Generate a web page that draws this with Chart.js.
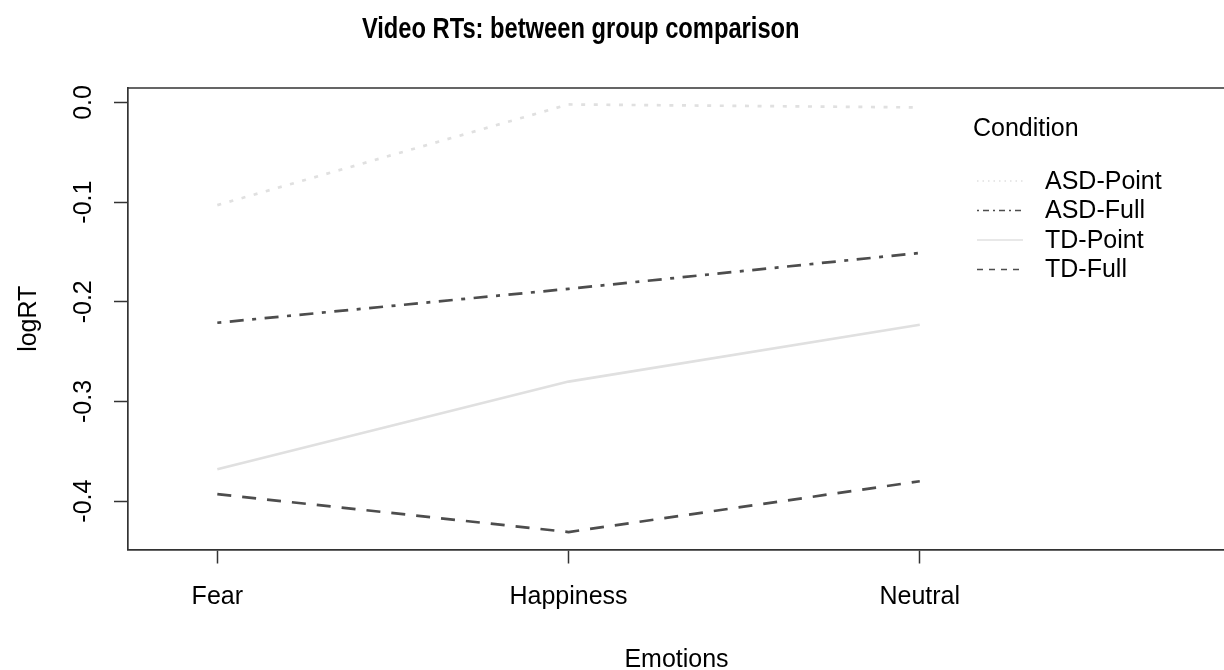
<!DOCTYPE html>
<html>
<head>
<meta charset="utf-8">
<title>Video RTs: between group comparison</title>
<script src="https://cdn.jsdelivr.net/npm/chart.js@4/dist/chart.umd.min.js"></script>
<style>
  html, body { margin: 0; padding: 0; background: #fff; overflow: hidden; }
  #wrap { width: 1226px; height: 670px; }
</style>
</head>
<body>
<div id="wrap"><canvas id="c" width="1226" height="670"></canvas></div>
<script>
// Emotion categories on the x axis
const emotions = ['Fear', 'Happiness', 'Neutral'];

// Mean logRT per condition, one value per emotion
const asdPoint = [-0.103, -0.002, -0.005];
const asdFull  = [-0.221, -0.187, -0.151];
const tdPoint  = [-0.368, -0.280, -0.223];
const tdFull   = [-0.393, -0.431, -0.380];

const seriesNames = ['ASD-Point', 'ASD-Full', 'TD-Point', 'TD-Full'];
const seriesValues = [asdPoint, asdFull, tdPoint, tdFull];

// y-axis tick values
const yTicks = [-0.4, -0.3, -0.2, -0.1, 0.0];

const FONT = "'Liberation Sans', Arial, sans-serif";
const FONT_SIZE = 25;
const LIGHT = '#e0e0e0';
const DARK = '#4d4d4d';
const AXIS = '#333333';

// line styles: dotted, dot-dash, solid, dashed
const styles = [
  { color: LIGHT, dash: [4, 8.6],          legendDash: [1.5, 4] },
  { color: DARK,  dash: [4, 8.5, 14, 8.5], legendDash: [2, 4, 6, 4] },
  { color: LIGHT, dash: [],                legendDash: [] },
  { color: DARK,  dash: [14, 11],          legendDash: [6, 6] }
];

const datasets = seriesNames.map((name, i) => ({
  label: name,
  data: seriesValues[i].map((v, j) => ({ x: j + 1, y: v })),
  borderColor: styles[i].color,
  borderDash: styles[i].dash,
  borderWidth: 2.7,
  borderCapStyle: 'butt',
  borderJoinStyle: 'round',
  pointRadius: 0,
  pointHoverRadius: 0,
  tension: 0,
  fill: false
}));

// Title drawn above the plot region, in a condensed bold face
const mainTitle = {
  id: 'mainTitle',
  afterDraw(chart) {
    const ctx = chart.ctx;
    const cx = 580.7, baseline = 37.5, condense = 0.79;
    ctx.save();
    ctx.fillStyle = '#000';
    ctx.font = 'bold 30px ' + FONT;
    ctx.textAlign = 'center';
    ctx.textBaseline = 'alphabetic';
    ctx.translate(cx, baseline);
    ctx.scale(condense, 1);
    ctx.fillText('Video RTs: between group comparison', 0, 0);
    ctx.restore();
  }
};

// Box around the plot region (top and right sides; left/bottom come from the axes)
const plotBox = {
  id: 'plotBox',
  afterDraw(chart) {
    const { left, right, top, bottom } = chart.chartArea;
    const ctx = chart.ctx;
    ctx.save();
    ctx.strokeStyle = AXIS;
    ctx.lineWidth = 1.7;
    ctx.beginPath();
    ctx.moveTo(left, top);
    ctx.lineTo(right, top);
    ctx.lineTo(right, bottom);
    ctx.stroke();
    ctx.restore();
  }
};

// Legend inside the plot region
const condLegend = {
  id: 'condLegend',
  afterDraw(chart) {
    const ctx = chart.ctx;
    const top = chart.chartArea.top;
    const lineX0 = 977, lineX1 = 1023, textX = 1045;
    const rowH = 29.5;
    const firstRow = top + 94;
    ctx.save();
    ctx.font = FONT_SIZE + 'px ' + FONT;
    ctx.fillStyle = '#000';
    ctx.textBaseline = 'middle';
    ctx.textAlign = 'left';
    ctx.fillText('Condition', 973, top + 41);
    chart.data.datasets.forEach((ds, i) => {
      const y = firstRow + i * rowH;
      ctx.save();
      ctx.strokeStyle = ds.borderColor;
      ctx.lineWidth = 1.3;
      ctx.lineCap = 'butt';
      ctx.setLineDash(styles[i].legendDash);
      ctx.beginPath();
      ctx.moveTo(lineX0, y - 1);
      ctx.lineTo(lineX1, y - 1);
      ctx.stroke();
      ctx.restore();
      ctx.fillText(ds.label, textX, y);
    });
    ctx.restore();
  }
};

Chart.defaults.font.family = FONT;
Chart.defaults.font.size = FONT_SIZE;
Chart.defaults.color = '#000';

new Chart(document.getElementById('c'), {
  type: 'line',
  data: { datasets },
  plugins: [mainTitle, plotBox, condLegend],
  options: {
    responsive: false,
    animation: false,
    devicePixelRatio: 1,
    layout: { padding: { top: 88, right: 1, bottom: 0, left: 0 } },
    plugins: {
      legend: { display: false },
      title: { display: false },
      tooltip: { enabled: false }
    },
    scales: {
      x: {
        type: 'linear',
        min: 0.7457,
        max: 3.869,
        afterBuildTicks(scale) {
          scale.ticks = emotions.map((_, i) => ({ value: i + 1 }));
        },
        afterFit(scale) { scale.height = 120.5; },
        ticks: {
          autoSkip: false,
          maxRotation: 0,
          padding: 19,
          color: '#000',
          callback: (v) => emotions[v - 1]
        },
        grid: {
          drawOnChartArea: false,
          drawTicks: true,
          tickLength: 14,
          tickColor: AXIS,
          tickWidth: 1.5
        },
        border: { display: true, color: AXIS, width: 1.7 },
        title: {
          display: true,
          text: 'Emotions',
          color: '#000',
          padding: { top: 0, bottom: -5 }
        }
      },
      y: {
        type: 'linear',
        min: -0.4485,
        max: 0.0145,
        afterBuildTicks(scale) {
          scale.ticks = yTicks.map(v => ({ value: v }));
        },
        afterFit(scale) { scale.width = 128; },
        ticks: {
          autoSkip: false,
          minRotation: 90,
          maxRotation: 90,
          crossAlign: 'center',
          padding: 8.5,
          color: '#000',
          callback: (v) => Number(v).toFixed(1)
        },
        grid: {
          drawOnChartArea: false,
          drawTicks: true,
          tickLength: 14,
          tickColor: AXIS,
          tickWidth: 1.5
        },
        border: { display: true, color: AXIS, width: 1.7 },
        title: {
          display: true,
          text: 'logRT',
          color: '#000',
          padding: { top: 14, bottom: 0 }
        }
      }
    }
  }
});
</script>
</body>
</html>
